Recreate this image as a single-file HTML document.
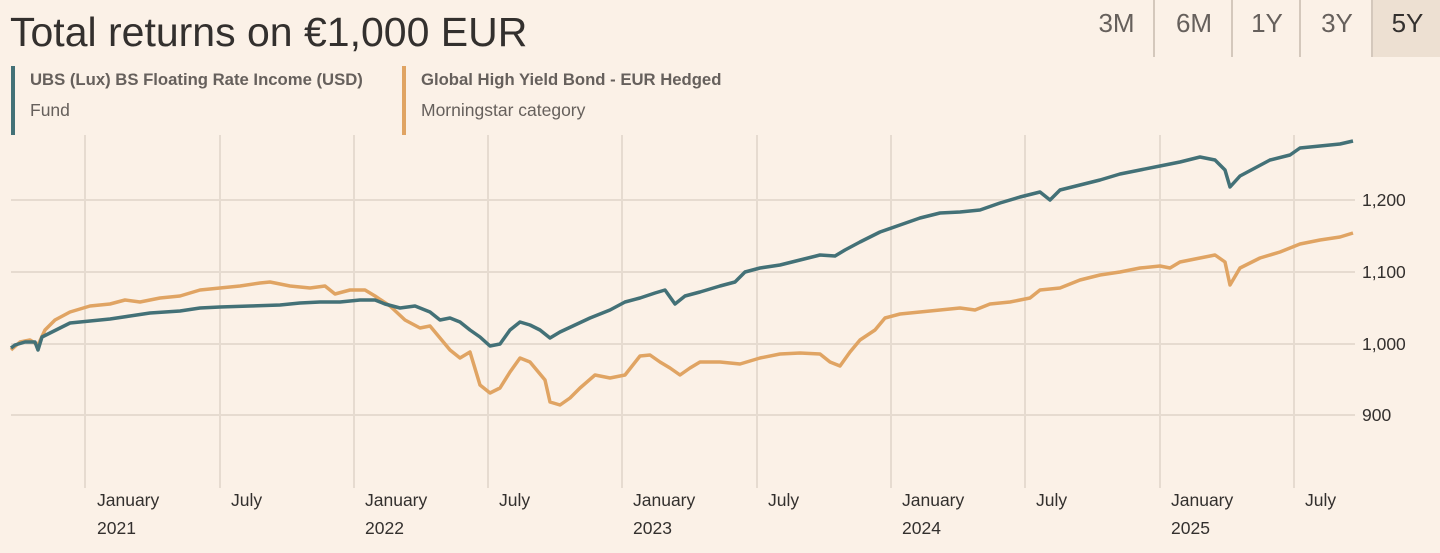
<!DOCTYPE html>
<html><head><meta charset="utf-8"><style>
body{margin:0;width:1440px;height:553px;background:#fbf1e7;font-family:"Liberation Sans",sans-serif;overflow:hidden;position:relative}
.t{position:absolute;left:10px;top:9px;font-size:41px;color:#33302e}
.btn{position:absolute;top:0;height:57px;font-size:26px;color:#66605c;text-align:center;line-height:46px;border-left:2px solid #d4c8bc}
.lg{position:absolute;top:66px;height:69px;border-left:4px solid}
.lg b{position:absolute;left:15px;top:4px;font-size:16.7px;color:#66605c;white-space:nowrap}
.lg span{position:absolute;left:15px;top:34px;font-size:17.5px;color:#66605c;white-space:nowrap}
</style></head><body>
<div class="t">Total returns on €1,000 EUR</div>
<div class="btn" style="left:1080px;width:73px;border-left:none">3M</div>
<div class="btn" style="left:1153px;width:78px">6M</div>
<div class="btn" style="left:1231px;width:68px">1Y</div>
<div class="btn" style="left:1299px;width:72px">3Y</div>
<div class="btn" style="left:1371px;width:69px;background:#ede0d2;color:#33302e">5Y</div>
<div class="lg" style="left:11px;border-color:#437177"><b>UBS (Lux) BS Floating Rate Income (USD)</b><span>Fund</span></div>
<div class="lg" style="left:402px;border-color:#e0a463"><b>Global High Yield Bond - EUR Hedged</b><span>Morningstar category</span></div>
<svg width="1440" height="553" style="position:absolute;left:0;top:0" font-family="Liberation Sans, sans-serif">
<g stroke="#e6dbd0" stroke-width="2">
<line x1="11" x2="1355" y1="200" y2="200"/><line x1="11" x2="1355" y1="272" y2="272"/><line x1="11" x2="1355" y1="344" y2="344"/><line x1="11" x2="1355" y1="415" y2="415"/>
<line x1="85" x2="85" y1="135" y2="488"/><line x1="220" x2="220" y1="135" y2="488"/><line x1="354" x2="354" y1="135" y2="488"/><line x1="488" x2="488" y1="135" y2="488"/><line x1="622" x2="622" y1="135" y2="488"/><line x1="757" x2="757" y1="135" y2="488"/><line x1="891" x2="891" y1="135" y2="488"/><line x1="1025" x2="1025" y1="135" y2="488"/><line x1="1160" x2="1160" y1="135" y2="488"/><line x1="1294" x2="1294" y1="135" y2="488"/>
</g>
<g font-size="17.5" fill="#33302e">
<text x="1362" y="206">1,200</text><text x="1362" y="278">1,100</text><text x="1362" y="350">1,000</text><text x="1362" y="421">900</text>
<text x="97" y="506">January</text><text x="97" y="534">2021</text><text x="231" y="506">July</text>
<text x="365" y="506">January</text><text x="365" y="534">2022</text><text x="499" y="506">July</text>
<text x="633" y="506">January</text><text x="633" y="534">2023</text><text x="768" y="506">July</text>
<text x="902" y="506">January</text><text x="902" y="534">2024</text><text x="1036" y="506">July</text>
<text x="1171" y="506">January</text><text x="1171" y="534">2025</text><text x="1305" y="506">July</text>
</g>
<polyline fill="none" stroke="#e0a463" stroke-width="3.5" stroke-linejoin="round" points="11,350 20,342 30,340 38,345 45,330 55,320 70,312 90,306 110,304 125,300 140,302 160,298 180,296 200,290 220,288 240,286 260,283 270,282 290,286 310,288 325,286 335,294 350,290 365,290 375,296 390,306 405,320 420,328 430,326 440,338 450,350 460,358 470,352 480,385 490,393 500,388 510,372 520,358 530,362 545,380 550,402 560,405 570,398 580,388 595,375 610,378 625,375 640,356 650,355 660,362 670,368 680,375 690,368 700,362 720,362 740,364 760,358 780,354 800,353 820,354 830,362 840,366 850,352 860,340 875,330 885,318 900,314 920,312 940,310 960,308 975,310 990,304 1010,302 1030,298 1040,290 1060,288 1080,280 1100,275 1120,272 1140,268 1160,266 1170,268 1180,262 1200,258 1215,255 1225,262 1230,285 1240,268 1260,258 1280,252 1300,244 1320,240 1340,237 1353,233"/>
<polyline fill="none" stroke="#437177" stroke-width="3.5" stroke-linejoin="round" points="11,348 15,345 25,342 35,342 38,350 42,337 50,333 60,328 70,323 90,321 110,319 130,316 150,313 180,311 200,308 220,307 250,306 280,305 300,303 320,302 340,302 360,300 375,300 385,304 400,308 415,306 430,312 440,320 450,318 460,322 470,330 480,337 490,346 500,344 510,330 520,322 530,325 540,330 550,338 560,332 575,325 590,318 610,310 625,302 640,298 655,293 665,290 675,304 685,296 700,292 720,286 735,282 745,272 760,268 780,265 800,260 820,255 835,256 845,250 860,242 880,232 900,225 920,218 940,213 960,212 980,210 1000,203 1020,197 1040,192 1050,200 1060,190 1080,185 1100,180 1120,174 1140,170 1160,166 1180,162 1200,157 1215,160 1225,170 1230,187 1240,176 1255,168 1270,160 1290,155 1300,148 1320,146 1340,144 1353,141"/>
</svg>
</body></html>
